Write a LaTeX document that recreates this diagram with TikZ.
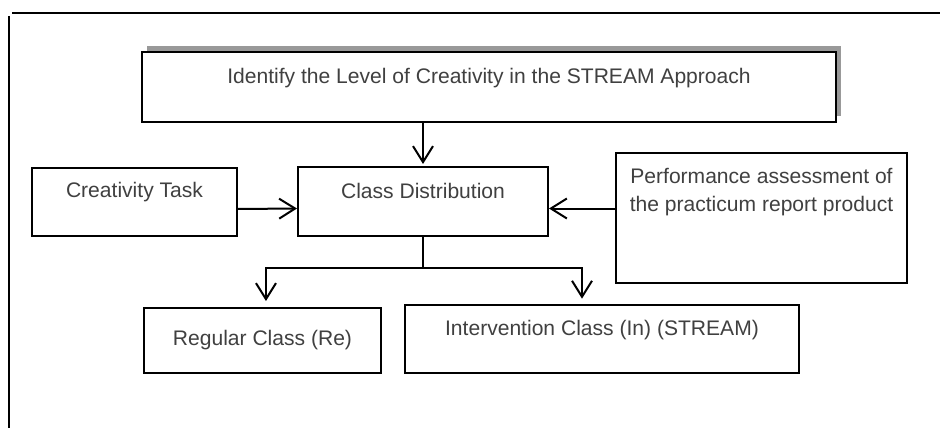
\documentclass[tikz,border=0pt]{standalone}
\usepackage{fontspec}
\setmainfont{Liberation Sans}
\usepackage{tikz}
\usetikzlibrary{arrows.meta, shadows}

\begin{document}
\begin{tikzpicture}[x=0.75pt, y=-0.75pt,
    box/.style={draw, line width=1.5pt, fill=white, text=textcolor,
        font=\fontsize{15.8}{21}\selectfont, align=center, text height=11pt},
    arr/.style={line width=1.5pt, -{Straight Barb[length=12pt, width=15pt]}},
    link/.style={line width=1.5pt},
    frame/.style={line width=1.8pt}]
    % Colors
    \colorlet{textcolor}{black!75}
    \colorlet{shadowcolor}{gray!80}

    \useasboundingbox (0,0) rectangle (940,428);

    % Outer frame (top and left only)
    \draw[frame] (12,13) -- (940,13);
    \draw[frame] (9,16) -- (9,428);

    % Boxes
    \node[box, minimum width=520.5pt, minimum height=52.5pt, text depth=15.5pt,
        drop shadow={shadow xshift=4pt, shadow yshift=4.5pt, fill=shadowcolor, opacity=1}]
        (level) at (489,87) {Identify the Level of Creativity in the STREAM Approach};
    \node[box, minimum width=153.75pt, minimum height=51pt, text depth=17pt]
        (task) at (134.5,202) {Creativity Task};
    \node[box, minimum width=187.5pt, minimum height=51.75pt, text depth=16pt]
        (dist) at (423,201.5) {Class Distribution};
    \node[box, minimum width=218.25pt, minimum height=97.5pt, text depth=21pt]
        (perf) at (761.5,218) {Performance assessment of\\the practicum report product};
    \node[box, minimum width=177.75pt, minimum height=48.75pt, text depth=3pt]
        (regular) at (262.5,340.5) {Regular Class (Re)};
    \node[box, minimum width=295.5pt, minimum height=51pt, text depth=16pt]
        (interv) at (602,339) {Intervention Class (In) (STREAM)};

    % Arrows into the class distribution
    \draw[arr] (level.south -| dist.north) -- ([yshift=1.5pt]dist.north);
    \draw[arr] ([yshift=-5.25pt]task.east) -- ([yshift=-5.25pt]dist.west);
    \draw[arr] ([yshift=-5.25pt]dist.east -| perf.west) -- ([yshift=-5.25pt]dist.east);

    % Split into the two classes
    \coordinate (split) at ([yshift=-23pt]dist.south);
    \draw[link] (dist.south) -- (split);
    \draw[arr] (split) -| ([xshift=2.6pt, yshift=4.5pt]regular.north);
    \draw[arr] (split) -| ([xshift=-15pt, yshift=4pt]interv.north);
\end{tikzpicture}
\end{document}
